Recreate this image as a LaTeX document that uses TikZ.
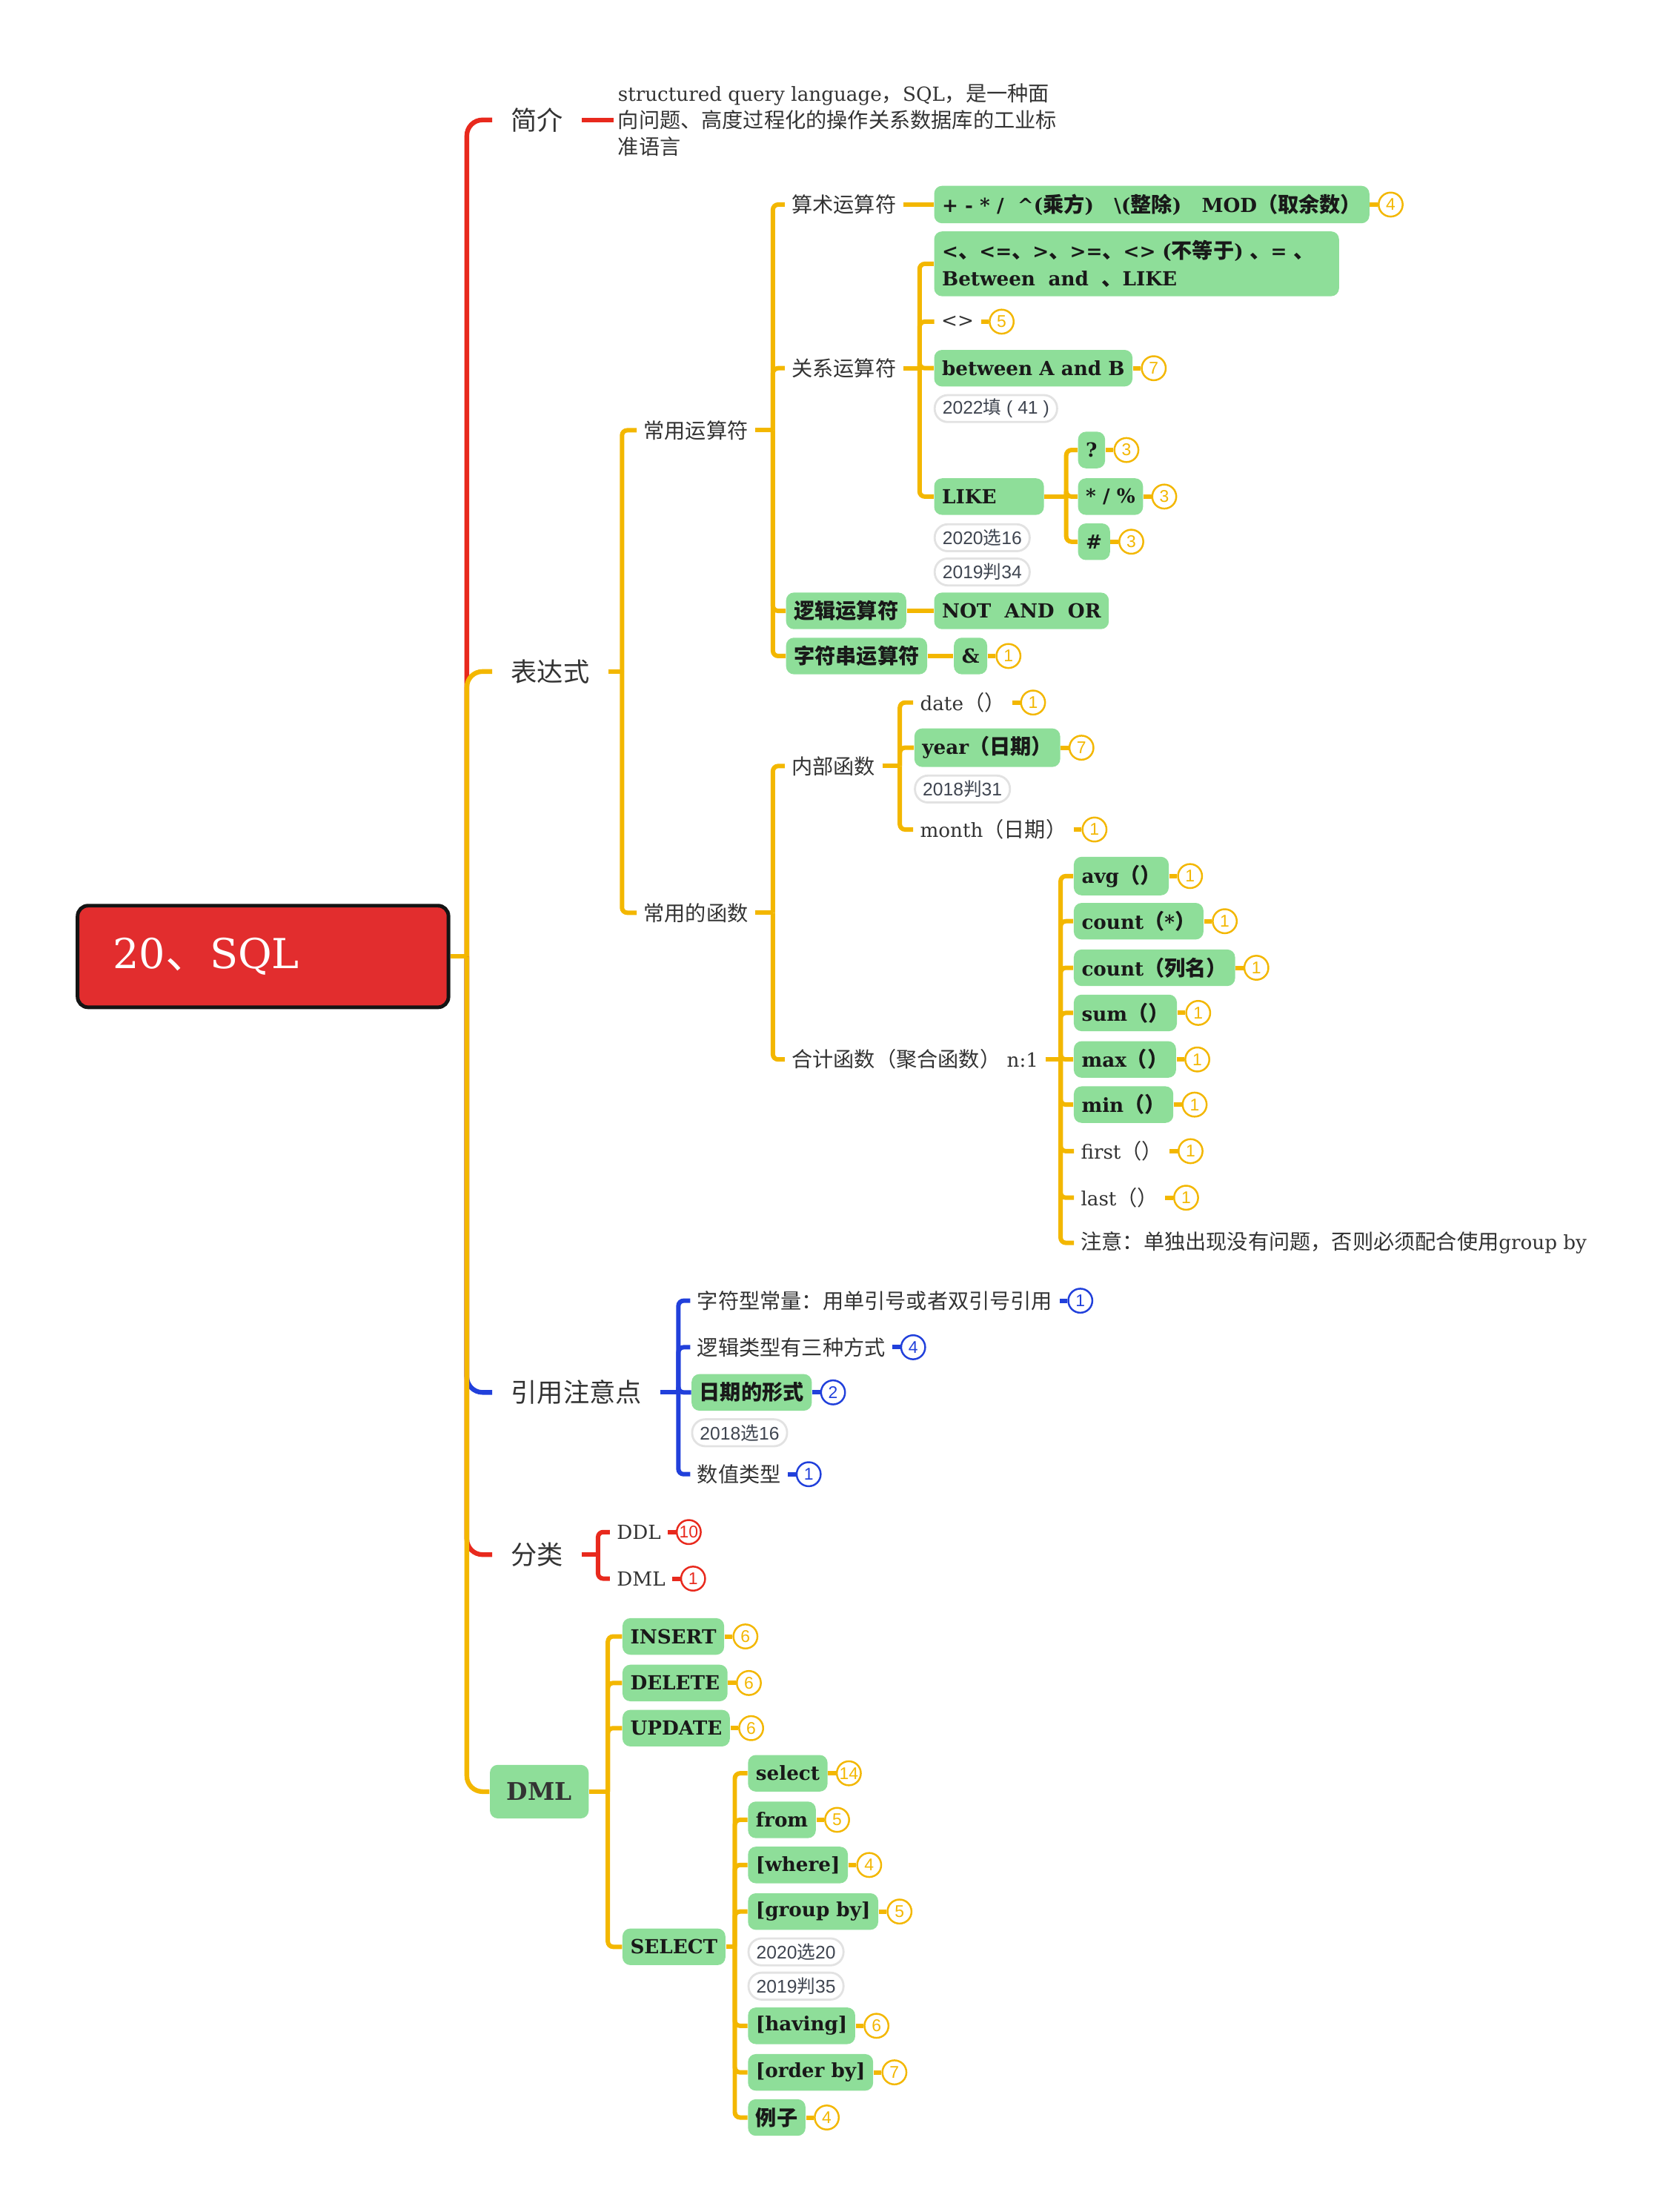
\documentclass[tikz,border=0pt]{standalone}
\usepackage{fontspec}
\setmainfont{DejaVu Serif}[Scale=0.93]
\newfontfamily\zh{Noto Sans CJK SC}
\newfontfamily\tagf{Liberation Sans}
\usetikzlibrary{positioning}
% switch to the CJK font for Chinese characters
\XeTeXinterchartokenstate=1
\newXeTeXintercharclass\cjkcls
\newcommand\setcjk[2]{\count255=#1 \loop\XeTeXcharclass\count255=\cjkcls\ifnum\count255<#2 \advance\count255 by 1 \repeat}
\setcjk{"3000}{"303F}
\setcjk{"4E00}{"9FFF}
\setcjk{"FF00}{"FFEF}
\XeTeXinterchartoks 0 \cjkcls={\begingroup\zh}
\XeTeXinterchartoks 4095 \cjkcls={\begingroup\zh}
\XeTeXinterchartoks \cjkcls 0={\endgroup}
\XeTeXinterchartoks \cjkcls 4095={\endgroup}

\definecolor{ylw}{HTML}{F3B700}
\definecolor{rd}{HTML}{E8291D}
\definecolor{bl}{HTML}{2140DB}
\definecolor{grn}{HTML}{8EDE99}
\definecolor{rootred}{HTML}{E22D2E}
\definecolor{ink}{HTML}{333333}
\definecolor{tagline}{HTML}{E2E2E2}
\definecolor{tagink}{HTML}{3F4550}

% badge with its short connector
\newcommand\bdg[3]{\node[badge=#1,right=3pt of #2] (#2n) {#3}; \draw[br,draw=#1] (#2.east) -- (#2n.west);}
% parent -> bar -> children
\newcommand\fork[4]{\coordinate (#2f) at #3; \draw[#1] (#2.east) -- (#2f);
  \foreach \k in {#4}{\draw[#1] (#2f) |- (\k.west);}}

\begin{document}
\begin{tikzpicture}[x=0.54pt,y=-0.54pt,
  br/.style={line width=1.7pt,rounded corners=2pt},
  yb/.style={br,draw=ylw}, rb/.style={br,draw=rd}, bb/.style={br,draw=bl},
  mb/.style={line width=1.8pt,rounded corners=6pt,draw=#1},
  root/.style={fill=rootred,draw=black!92,line width=1.4pt,rounded corners=4pt,minimum width=142pt,minimum height=38.9pt,text width=115pt,align=left,inner xsep=13.5pt,text=white,font=\fontsize{17}{20}\selectfont},
  main/.style={anchor=west,inner xsep=7pt,text=ink,font=\fontsize{10}{12}\selectfont},
  lbl/.style={anchor=west,inner xsep=2.5pt,inner ysep=2pt,text=ink,font=\fontsize{8}{10}\selectfont},
  gbox/.style={anchor=west,fill=grn,rounded corners=3pt,inner xsep=3pt,minimum height=14pt,text=black!90,font=\fontsize{8}{10}\selectfont\bfseries},
  tagbox/.style={anchor=north west,draw=tagline,line width=0.8pt,fill=white,rounded corners=5pt,minimum height=10.3pt,inner xsep=3pt,inner ysep=0pt,text=tagink,font=\tagf\fontsize{7}{8}\selectfont},
  badge/.style={circle,draw=#1,text=#1,line width=0.7pt,fill=white,minimum size=9.2pt,inner sep=0pt,font=\tagf\fontsize{6.5}{7}\selectfont}]
\useasboundingbox (0,0) rectangle (1181,1568);

\node[root] (root) at (186.5,678) {20、SQL};
\coordinate (sp) at (331,678);

% main branches
\node[main] (jj) at (349,85) {简介};
\node[main] (bd) at (349,476) {表达式};
\node[main] (yy) at (349,987) {引用注意点};
\node[main] (fl) at (349,1102) {分类};
\node[gbox,minimum width=37.8pt,minimum height=20.5pt,font=\fontsize{10}{12}\selectfont\bfseries,text=ink] (dml) at (347,1270) {DML};
\draw[mb=rd] (sp) |- (jj.west);
\draw[mb=bl] (sp) |- (yy.west);
\draw[mb=rd] (sp) |- (fl.west);
\draw[mb=ylw] (sp) |- (bd.west);
\draw[mb=ylw] (sp) |- (dml.west);
\draw[yb,rounded corners=0pt] (root.east) -- (sp);

% intro
\node[lbl,align=left,inner xsep=1.5pt,font=\fontsize{8}{10.3}\selectfont] (jjt) at (435,85) {structured query language，SQL，是一种面\\向问题、高度过程化的操作关系数据库的工业标\\准语言};
\draw[rb] (jj.east) -- (jjt.west);

% expressions
\node[lbl] (cyf) at (451.4,305) {常用运算符};
\node[lbl] (chs) at (451.4,647) {常用的函数};
\fork{yb}{bd}{(441,476)}{cyf,chs}

\node[lbl] (ss) at (556.4,145) {算术运算符};
\node[lbl] (gx) at (556.4,261) {关系运算符};
\node[gbox] (lj) at (557,433) {逻辑运算符};
\node[gbox] (zf) at (557,465) {字符串运算符};
\fork{yb}{cyf}{(548,305)}{ss,gx,lj,zf}

\node[gbox] (ssv) at (662,145) {+ - * /\ \ \textasciicircum(乘方)\ \ \ \textbackslash(整除)\ \ \ MOD（取余数）};
\draw[yb] (ss.east) -- (ssv.west);
\bdg{ylw}{ssv}{4}

\node[gbox,align=left,text width=149pt,minimum height=24.8pt,font=\fontsize{8}{10.3}\selectfont\bfseries] (gx1) at (662,187) {<、<=、>、>=、<> (不等于) 、= 、\\Between\ \ and\ \ 、LIKE};
\node[lbl] (gx2) at (662.4,228) {<>};
\node[gbox] (gx3) at (662,261) {between A and B};
\node[gbox,text width=36pt,align=left] (gx4) at (662,352) {LIKE};
\fork{yb}{gx}{(652,261)}{gx1,gx2,gx3,gx4}
\bdg{ylw}{gx2}{5}
\bdg{ylw}{gx3}{7}
\node[tagbox] (t22) at ([yshift=-2.7pt]gx3.south west) {2022填 ( 41 )};
\node[tagbox] (t20) at ([yshift=-3pt]gx4.south west) {2020选16};
\node[tagbox] (t19) at ([yshift=-2pt]t20.south west) {2019判34};

\node[gbox] (lq) at (764,319) {?};
\node[gbox] (lp) at (764,352) {* / \%};
\node[gbox] (lh) at (764,384) {\#};
\fork{yb}{gx4}{(756,352)}{lq,lp,lh}
\foreach \b in {lq,lp,lh} {\bdg{ylw}{\b}{3}}

\node[gbox] (ljv) at (662,433) {NOT\ \ AND\ \ OR};
\draw[yb] (lj.east) -- (ljv.west);
\node[gbox] (zfv) at (676,465) {\&};
\draw[yb] (zf.east) -- (zfv.west);
\bdg{ylw}{zfv}{1}

% functions
\node[lbl] (nb) at (556.4,543) {内部函数};
\node[lbl] (hj) at (556.4,751) {合计函数（聚合函数） n:1};
\fork{yb}{chs}{(548,647)}{nb,hj}

\node[lbl] (fd) at (647.4,498) {date（）};
\node[gbox] (fy) at (648,530) {year（日期）};
\node[lbl] (fm) at (647.4,588) {month（日期）};
\fork{yb}{nb}{(638,543)}{fd,fy,fm}
\bdg{ylw}{fd}{1}
\bdg{ylw}{fy}{7}
\bdg{ylw}{fm}{1}
\node[tagbox] (t18) at ([yshift=-2.7pt]fy.south west) {2018判31};

\node[gbox] (ag1) at (761,621) {avg（）};
\node[gbox] (ag2) at (761,653) {count（*）};
\node[gbox] (ag3) at (761,686) {count（列名）};
\node[gbox] (ag4) at (761,718) {sum（）};
\node[gbox] (ag5) at (761,751) {max（）};
\node[gbox] (ag6) at (761,783) {min（）};
\node[lbl] (ag7) at (761.4,816) {first（）};
\node[lbl] (ag8) at (761.4,849) {last（）};
\node[lbl] (ag9) at (761.4,881) {注意：单独出现没有问题，否则必须配合使用group by};
\fork{yb}{hj}{(752,751)}{ag1,ag2,ag3,ag4,ag5,ag6,ag7,ag8,ag9}
\foreach \b in {ag1,ag2,ag3,ag4,ag5,ag6,ag7,ag8} {\bdg{ylw}{\b}{1}}

% quoting
\node[lbl] (q1) at (489.4,922) {字符型常量：用单引号或者双引号引用};
\node[lbl] (q2) at (489.4,955) {逻辑类型有三种方式};
\node[gbox] (q3) at (490,987) {日期的形式};
\node[lbl] (q4) at (489.4,1045) {数值类型};
\fork{bb}{yy}{(481,987)}{q1,q2,q3,q4}
\bdg{bl}{q1}{1}
\bdg{bl}{q2}{4}
\bdg{bl}{q3}{2}
\bdg{bl}{q4}{1}
\node[tagbox] (t18b) at ([yshift=-2.7pt]q3.south west) {2018选16};

% classes
\node[lbl] (ddl) at (432.4,1086) {DDL};
\node[lbl] (dmc) at (432.4,1119) {DML};
\fork{rb}{fl}{(424,1102)}{ddl,dmc}
\bdg{rd}{ddl}{10}
\bdg{rd}{dmc}{1}

% DML
\node[gbox] (ins) at (441,1160) {INSERT};
\node[gbox] (del) at (441,1193) {DELETE};
\node[gbox] (upd) at (441,1225) {UPDATE};
\node[gbox] (sel) at (441,1380) {SELECT};
\fork{yb}{dml}{(431,1270)}{ins,del,upd,sel}
\foreach \b in {ins,del,upd} {\bdg{ylw}{\b}{6}}

\node[gbox] (s1) at (530,1257) {select};
\node[gbox] (s2) at (530,1290) {from};
\node[gbox] (s3) at (530,1322) {[where]};
\node[gbox] (s4) at (530,1355) {[group by]};
\node[gbox] (s5) at (530,1436) {[having]};
\node[gbox] (s6) at (530,1469) {[order by]};
\node[gbox] (s7) at (530,1501) {例子};
\fork{yb}{sel}{(521,1380)}{s1,s2,s3,s4,s5,s6,s7}
\foreach \b/\n in {s1/14,s2/5,s3/4,s4/5,s5/6,s6/7,s7/4} {\bdg{ylw}{\b}{\n}}
\node[tagbox] (t20b) at ([yshift=-2.7pt]s4.south west) {2020选20};
\node[tagbox] (t19b) at ([yshift=-2pt]t20b.south west) {2019判35};
\end{tikzpicture}
\end{document}
